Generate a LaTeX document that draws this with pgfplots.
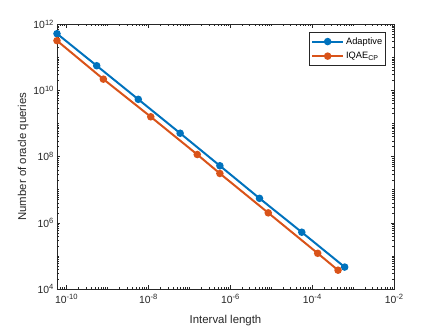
\documentclass[border=0pt]{standalone}
\usepackage{pgfplots}
\pgfplotsset{compat=1.18}
\usepackage{fontspec}
\setmainfont{Liberation Sans}
\definecolor{mblue}{HTML}{0072BD}
\definecolor{morange}{HTML}{D95319}
\definecolor{axgray}{HTML}{262626}

\newcommand\ex[1]{10\raisebox{0.62ex}{\fontsize{7.6bp}{9bp}\selectfont #1}}

% minor ticks at 2..9 x 10^k and at the odd decades
\def\minorx{1e-11}
\foreach \e in {-11,...,-3}{\foreach \m in {1,...,9}{\xdef\minorx{\minorx,\m e\e}}}
\def\minory{1e3}
\foreach \e in {3,...,11}{\foreach \m in {1,...,9}{\xdef\minory{\minory,\m e\e}}}

\begin{document}
\begin{tikzpicture}
  \path[use as bounding box] (0,0) rectangle (436bp,327bp);
  \begin{axis}[at={(57bp,38bp)},anchor=south west,
    scale only axis,width=337bp,height=264.7bp,
    xmode=log,ymode=log,
    xmin=5.9e-11,xmax=1e-2,ymin=1e4,ymax=1e12,
    axis line style={axgray,line width=0.6bp},
    every tick/.style={axgray,line width=0.5bp},
    tick align=inside,
    major tick length=3.5bp,minor tick length=2bp,
    xtick={1e-10,1e-8,1e-6,1e-4,1e-2},
    xticklabels={\ex{-10},\ex{-8},\ex{-6},\ex{-4},\ex{-2}},
    ytick={1e4,1e6,1e8,1e10,1e12},
    yticklabels={\ex{4},\ex{6},\ex{8},\ex{10},\ex{12}},
    minor xtick/.expanded={\minorx},
    minor ytick/.expanded={\minory},
    tick label style={font=\fontsize{10.4bp}{12bp}\selectfont,text=axgray},
    xticklabel style={yshift=-2bp},
    label style={font=\fontsize{11.4bp}{13bp}\selectfont,text=axgray},
    xlabel={Interval length},
    ylabel={Number of oracle queries},
    xlabel style={yshift=-5bp},
    ylabel style={yshift=-2bp},
    legend style={at={(rel axis cs:0.976,0.97)},anchor=north east,
      draw=axgray,line width=0.5bp,fill=white,
      font=\fontsize{9.25bp}{11bp}\selectfont,
      inner xsep=1.5bp,inner ysep=3bp,row sep=2.5bp},
    legend cell align=left,
    legend image code/.code={%
      \draw[mark repeat=2,mark phase=2] plot coordinates {(0bp,0bp)(15.5bp,0bp)(31bp,0bp)};},
  ]
    \addplot[mblue,line width=2bp,mark=*,mark size=2.7bp,mark options={solid,fill=mblue}]
      coordinates {(5.9e-11,5.2e11)(5.5e-10,5.6e10)(5.7e-9,5.4e9)(6.0e-8,5.1e8)
                   (5.6e-7,5.3e7)(5.2e-6,5.5e6)(5.6e-5,5.2e5)(6.25e-4,4.6e4)};
    \addlegendentry{Adaptive}
    \addplot[morange,line width=2bp,mark=*,mark size=2.7bp,mark options={solid,fill=morange}]
      coordinates {(5.9e-11,3.2e11)(8.0e-10,2.2e10)(1.15e-8,1.6e9)(1.57e-7,1.16e8)
                   (5.6e-7,3.1e7)(8.5e-6,2.0e6)(1.37e-4,1.2e5)(4.3e-4,3.7e4)};
    \addlegendentry{IQAE\raisebox{-0.45ex}{\fontsize{7bp}{8bp}\selectfont CP}}
  \end{axis}
\end{tikzpicture}
\end{document}
